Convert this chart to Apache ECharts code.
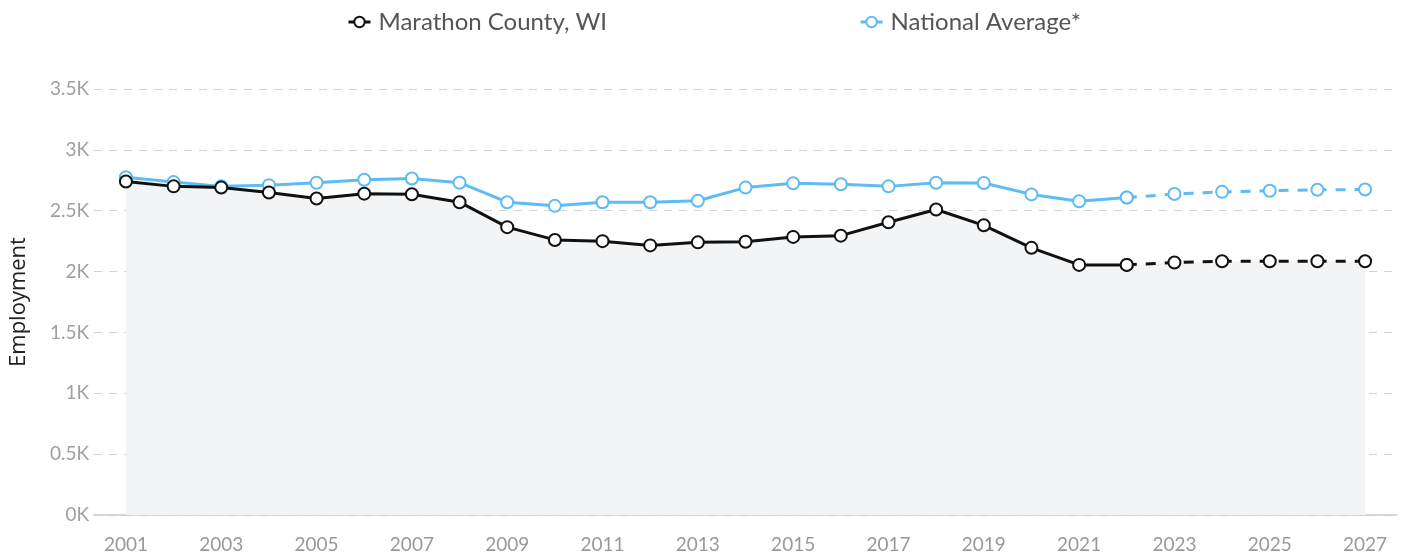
<!DOCTYPE html>
<html>
<head>
<meta charset="utf-8">
<script src="https://cdn.jsdelivr.net/npm/echarts@6/dist/echarts.min.js"></script>
<style>
  html, body { margin: 0; padding: 0; background: #fff; }
  #chart { width: 1405px; height: 558px; }
</style>
</head>
<body>
<div id="chart"></div>
<script>
// years on the x axis
var years = [2001, 2002, 2003, 2004, 2005, 2006, 2007, 2008, 2009, 2010, 2011, 2012, 2013, 2014,
  2015, 2016, 2017, 2018, 2019, 2020, 2021, 2022, 2023, 2024, 2025, 2026, 2027];
var xTickLabels = [2001, 2003, 2005, 2007, 2009, 2011, 2013, 2015, 2017, 2019, 2021, 2023, 2025, 2027];
var yTicks = [0, 500, 1000, 1500, 2000, 2500, 3000, 3500];

// 2001-2022 actual, 2022-2027 projected (dashed)
var marathonActual = [2740, 2700, 2690, 2650, 2600, 2640, 2635, 2570, 2365, 2260, 2250, 2215, 2240, 2245,
  2285, 2295, 2405, 2510, 2380, 2195, 2055, 2055];
var marathonForecast = [2055, 2075, 2085, 2085, 2085, 2085];
var nationalActual = [2775, 2735, 2700, 2710, 2730, 2755, 2765, 2730, 2570, 2540, 2570, 2570, 2582, 2690,
  2725, 2718, 2700, 2730, 2728, 2634, 2578, 2608];
var nationalForecast = [2608, 2637, 2655, 2664, 2672, 2674];

var countyName = "Marathon County, WI";
var nationalName = "National Average*";
var black = "#111111";
var blue = "#5dbcf5";

function pairs(vals, startIdx) {
  return vals.map(function (v, i) { return [years[startIdx + i], v]; });
}
var forecastStart = marathonActual.length - 1;

function lineSeries(name, data, color, dashed, area) {
  var s = {
    name: name,
    type: "line",
    data: data,
    symbol: "emptyCircle",
    symbolSize: 12,
    showSymbol: true,
    itemStyle: { color: color, borderWidth: 3 },
    lineStyle: { color: color, width: 3, type: dashed ? [10, 9] : "solid" },
    z: color === black ? 4 : 3
  };
  if (area) s.areaStyle = { color: "#f3f4f6", opacity: 1, origin: "start" };
  return s;
}

var chart = echarts.init(document.getElementById("chart"));
chart.setOption({
  animation: false,
  textStyle: { fontFamily: "Lato" },
  legend: {
    data: [countyName, nationalName],
    top: 5,
    left: 342,
    itemGap: 252,
    itemWidth: 22,
    itemHeight: 13,
    itemStyle: { borderWidth: 3 },
    lineStyle: { width: 3 },
    textStyle: { fontSize: 24, color: "#555", fontFamily: "Lato", padding: [0, 0, 0, 3] }
  },
  grid: { left: 93, right: 8, top: 89, bottom: 43, containLabel: false },
  xAxis: {
    type: "value",
    min: 2000.33,
    max: 2027.67,
    axisLine: { show: true, onZero: false, lineStyle: { color: "#cccccc", width: 1.5 } },
    axisTick: { show: false },
    splitLine: { show: false },
    axisLabel: {
      customValues: xTickLabels,
      color: "#999",
      fontSize: 19,
      margin: 20,
      formatter: function (v) { return String(v); }
    }
  },
  yAxis: {
    type: "value",
    min: yTicks[0],
    max: yTicks[yTicks.length - 1],
    interval: 500,
    name: "Employment",
    nameLocation: "middle",
    nameGap: 64,
    nameTextStyle: { color: "#222", fontSize: 22, fontFamily: "Open Sans" },
    axisLine: { show: false },
    axisTick: { show: false },
    axisLabel: {
      color: "#a0a0a0",
      fontSize: 19,
      margin: 5,
      formatter: function (v) { return (v / 1000) + "K"; }
    },
    splitLine: { lineStyle: { color: "#d4d4d4", type: [8, 7], width: 1.2 } }
  },
  series: [
    lineSeries(countyName, pairs(marathonActual, 0), black, false, true),
    lineSeries(countyName + " (projected)", pairs(marathonForecast, forecastStart), black, true, true),
    lineSeries(nationalName, pairs(nationalActual, 0), blue, false, false),
    lineSeries(nationalName + " (projected)", pairs(nationalForecast, forecastStart), blue, true, false)
  ]
});
</script>
</body>
</html>
